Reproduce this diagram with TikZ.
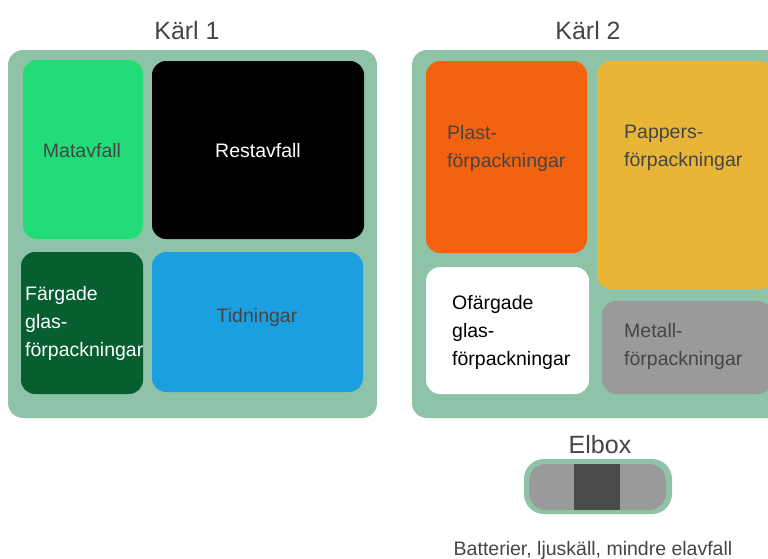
\documentclass[tikz,border=0pt]{standalone}
\usepackage{fontspec}
\setmainfont{Liberation Sans}

\definecolor{bingreen}{HTML}{8FC3A8}
\definecolor{foodgreen}{HTML}{22DC78}
\definecolor{glassgreen}{HTML}{075E30}
\definecolor{paperblue}{HTML}{1C9FE0}
\definecolor{plastorange}{HTML}{F2620F}
\definecolor{paperyellow}{HTML}{E8B536}
\definecolor{metalgray}{HTML}{9A9A9A}
\definecolor{darkgray}{HTML}{4A4A4A}
\definecolor{textgray}{HTML}{454545}

\tikzset{
  bin/.style={fill=bingreen, rounded corners=15pt},
  part/.style={rounded corners=14pt},
  title/.style={font=\fontsize{25}{30}\selectfont, text=textgray, inner sep=0pt},
  label/.style={font=\fontsize{19.5}{28}\selectfont, align=left, inner sep=0pt},
}

\begin{document}
\begin{tikzpicture}[x=1pt,y=-1pt]
\useasboundingbox (0,0) rectangle (768,558);

% Karl 1
\node[title] (k1) at (187,31) {Kärl 1};
\fill[bin] (8,50) rectangle (377,418);
\fill[part, foodgreen] (23,60) rectangle (143,239);
\fill[part, black] (152,61) rectangle (364,239);
\fill[part, glassgreen] (21,252) rectangle (143,394);
\fill[part, paperblue] (152,252) rectangle (363,392);
\node[label, text=textgray] (mat) at (82,151) {Matavfall};
\node[label, text=white] (rest) at (258,151) {Restavfall};
\node[label, text=white, anchor=west] (fglas) at (25,323) {Färgade\\glas-\\förpackningar};
\node[label, text=textgray] (tidn) at (257,317) {Tidningar};

% Karl 2
\node[title] (k2) at (588,31) {Kärl 2};
\fill[bin] (412,50) rectangle (790,418);
\fill[part, plastorange] (426,61) rectangle (587,253);
\fill[part, paperyellow] (597,61) rectangle (774,289);
\fill[part, white] (426,267) rectangle (589,394);
\fill[part, metalgray] (602,301) rectangle (772,394);
\node[label, text=textgray, anchor=west] (plast) at (447,148) {Plast-\\förpackningar};
\node[label, text=textgray, anchor=west] (papp) at (624,148) {Pappers-\\förpackningar};
\node[label, text=black, anchor=west] (oglas) at (452,332) {Ofärgade\\glas-\\förpackningar};
\node[label, text=textgray, anchor=west] (met) at (624,346) {Metall-\\förpackningar};

% Elbox
\node[title] (elbox) at (600,445) {Elbox};
\fill[bingreen, rounded corners=20pt] (524,459) rectangle (672,514);
\fill[metalgray, rounded corners=17pt] (529,464) rectangle (666,510);
\fill[darkgray] (574,464) rectangle (620,510);
\node[label, text=textgray] (elinfo) at (593,550) {Batterier, ljuskäll, mindre elavfall};
\end{tikzpicture}
\end{document}
